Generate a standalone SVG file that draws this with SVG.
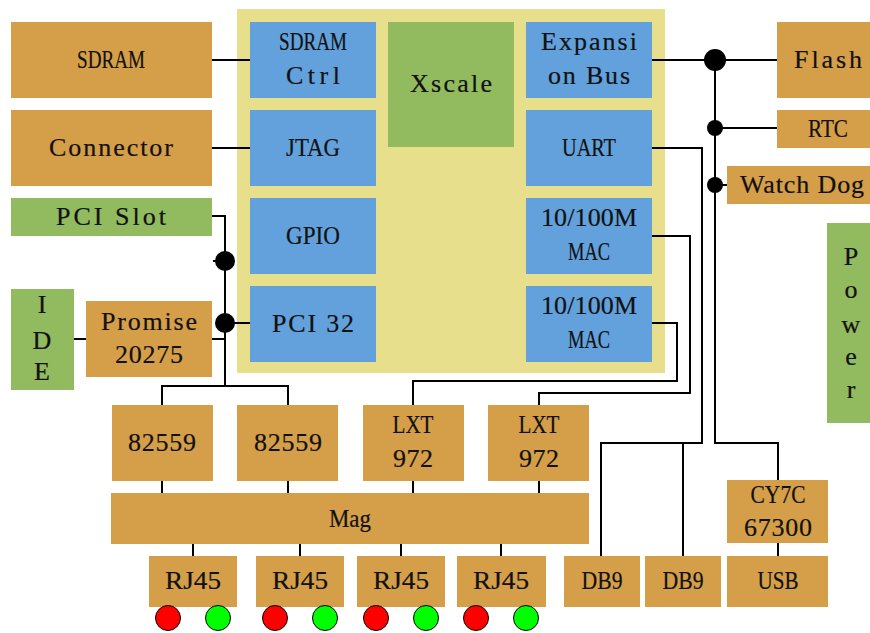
<svg xmlns="http://www.w3.org/2000/svg" width="870" height="633" viewBox="0 0 870 633">
<style>
.o{fill:#D59E48}
.b{fill:#62A1DC}
.g{fill:#92BA5E}
.y{fill:#E8DF8D}
text{font-family:"Liberation Serif","DejaVu Serif",serif;font-size:26px;fill:#111;text-anchor:middle;stroke:#111;stroke-width:0.2}
.w{stroke:#000;stroke-width:2;fill:none}
.d{fill:#000}
</style>
<rect width="870" height="633" fill="#fff"/>
<rect id="board" class="y" x="237" y="9" width="428" height="364"/>

<g id="connectors">
<path class="w" d="M212 60H250M212 148H250"/>
<path class="w" d="M652 60H777M715 60V443H778V480M715 128H777M715 185H727"/>
<path class="w" d="M652 148H702V443H601V556M683 443V556"/>
<path class="w" d="M652 236H690V393H539V405"/>
<path class="w" d="M652 323H677V381H413V405"/>
<path class="w" d="M212 216H225V386M213 261H225M225 323H250M212 339H225M74 339H86M162 405V386H288V405"/>
<path class="w" d="M162 481V493M288 481V493M413 481V493M539 481V493"/>
<path class="w" d="M193 544V556M300 544V556M401 544V556M501 544V556M778 543V556"/>
<circle class="d" cx="715" cy="60" r="11"/>
<circle class="d" cx="715" cy="128" r="8"/>
<circle class="d" cx="715" cy="185" r="8"/>
<circle class="d" cx="225" cy="261" r="10"/>
<circle class="d" cx="225" cy="323" r="10"/>
</g>

<g id="sdram"><rect class="o" x="11" y="22" width="201" height="76"/><text x="111" y="68" textLength="68" lengthAdjust="spacingAndGlyphs">SDRAM</text></g>
<g id="connector"><rect class="o" x="11" y="110" width="201" height="76"/><text x="111" y="156" textLength="124">Connector</text></g>
<g id="pcislot"><rect class="g" x="11" y="198" width="201" height="38"/><text x="111" y="225" textLength="110">PCI Slot</text></g>
<g id="ide"><rect class="g" x="11" y="289" width="63" height="101"/><text x="42" y="313">I</text><text x="42" y="349">D</text><text x="42" y="380">E</text></g>
<g id="promise"><rect class="o" x="86" y="301" width="126" height="76"/><text x="149" y="330" textLength="96">Promise</text><text x="149" y="363" textLength="68">20275</text></g>

<g id="sdramctrl"><rect class="b" x="250" y="22" width="126" height="76"/><text x="313" y="50" textLength="68" lengthAdjust="spacingAndGlyphs">SDRAM</text><text x="313" y="84" textLength="54">Ctrl</text></g>
<g id="jtag"><rect class="b" x="250" y="110" width="126" height="76"/><text x="313" y="156" textLength="54" lengthAdjust="spacingAndGlyphs">JTAG</text></g>
<g id="gpio"><rect class="b" x="250" y="198" width="126" height="76"/><text x="313" y="244" textLength="54" lengthAdjust="spacingAndGlyphs">GPIO</text></g>
<g id="pci32"><rect class="b" x="250" y="286" width="126" height="76"/><text x="313" y="332" textLength="82">PCI 32</text></g>
<g id="xscale"><rect class="g" x="388" y="22" width="126" height="125"/><text x="451" y="92" textLength="82">Xscale</text></g>
<g id="expbus"><rect class="b" x="526" y="22" width="126" height="76"/><text x="589" y="50" textLength="96">Expansi</text><text x="589" y="84" textLength="82">on Bus</text></g>
<g id="uart"><rect class="b" x="526" y="110" width="126" height="76"/><text x="589" y="156" textLength="54" lengthAdjust="spacingAndGlyphs">UART</text></g>
<g id="mac1"><rect class="b" x="526" y="198" width="126" height="76"/><text x="589" y="226" textLength="96">10/100M</text><text x="589" y="260" textLength="42" lengthAdjust="spacingAndGlyphs">MAC</text></g>
<g id="mac2"><rect class="b" x="526" y="286" width="126" height="76"/><text x="589" y="314" textLength="96">10/100M</text><text x="589" y="348" textLength="42" lengthAdjust="spacingAndGlyphs">MAC</text></g>

<g id="flash"><rect class="o" x="777" y="22" width="93" height="76"/><text x="828" y="68" textLength="68">Flash</text></g>
<g id="rtc"><rect class="o" x="777" y="110" width="93" height="38"/><text x="828" y="137" textLength="40" lengthAdjust="spacingAndGlyphs">RTC</text></g>
<g id="watchdog"><rect class="o" x="727" y="166" width="143" height="38"/><text x="802" y="193" textLength="124">Watch Dog</text></g>
<g id="power"><rect class="g" x="827" y="223" width="43" height="200"/><text x="851" y="265">P</text><text x="851" y="298">o</text><text x="851" y="333">w</text><text x="851" y="365">e</text><text x="851" y="398">r</text></g>

<g id="e82559a"><rect class="o" x="112" y="405" width="101" height="76"/><text x="162" y="451" textLength="68">82559</text></g>
<g id="e82559b"><rect class="o" x="237" y="405" width="101" height="76"/><text x="288" y="451" textLength="68">82559</text></g>
<g id="lxt1"><rect class="o" x="363" y="405" width="101" height="76"/><text x="413" y="433" textLength="41" lengthAdjust="spacingAndGlyphs">LXT</text><text x="413" y="467" textLength="40">972</text></g>
<g id="lxt2"><rect class="o" x="488" y="405" width="101" height="76"/><text x="539" y="433" textLength="41" lengthAdjust="spacingAndGlyphs">LXT</text><text x="539" y="467" textLength="40">972</text></g>
<g id="mag"><rect class="o" x="111" y="493" width="478" height="51"/><text x="350" y="527" textLength="42" lengthAdjust="spacingAndGlyphs">Mag</text></g>

<g id="rj45a"><rect class="o" x="149" y="556" width="88" height="51"/><text x="193" y="589" textLength="56" lengthAdjust="spacingAndGlyphs">RJ45</text></g>
<g id="rj45b"><rect class="o" x="256" y="556" width="88" height="51"/><text x="300" y="589" textLength="56" lengthAdjust="spacingAndGlyphs">RJ45</text></g>
<g id="rj45c"><rect class="o" x="357" y="556" width="88" height="51"/><text x="401" y="589" textLength="56" lengthAdjust="spacingAndGlyphs">RJ45</text></g>
<g id="rj45d"><rect class="o" x="457" y="556" width="89" height="51"/><text x="501" y="589" textLength="56" lengthAdjust="spacingAndGlyphs">RJ45</text></g>
<g id="db9a"><rect class="o" x="564" y="556" width="76" height="51"/><text x="602" y="589" textLength="41" lengthAdjust="spacingAndGlyphs">DB9</text></g>
<g id="db9b"><rect class="o" x="645" y="556" width="76" height="51"/><text x="683" y="589" textLength="41" lengthAdjust="spacingAndGlyphs">DB9</text></g>
<g id="cy7c"><rect class="o" x="727" y="480" width="101" height="63"/><text x="778" y="503" textLength="55" lengthAdjust="spacingAndGlyphs">CY7C</text><text x="778" y="536" textLength="68">67300</text></g>
<g id="usb"><rect class="o" x="727" y="556" width="101" height="51"/><text x="778" y="589" textLength="41" lengthAdjust="spacingAndGlyphs">USB</text></g>

<g id="leds" stroke="#000" stroke-width="1">
<circle cx="168" cy="618" r="12.5" fill="#F00"/><circle cx="218" cy="618" r="12.5" fill="#0F0"/>
<circle cx="275" cy="618" r="12.5" fill="#F00"/><circle cx="325" cy="618" r="12.5" fill="#0F0"/>
<circle cx="376" cy="618" r="12.5" fill="#F00"/><circle cx="426" cy="618" r="12.5" fill="#0F0"/>
<circle cx="476" cy="618" r="12.5" fill="#F00"/><circle cx="526" cy="618" r="12.5" fill="#0F0"/>
</g>
</svg>
